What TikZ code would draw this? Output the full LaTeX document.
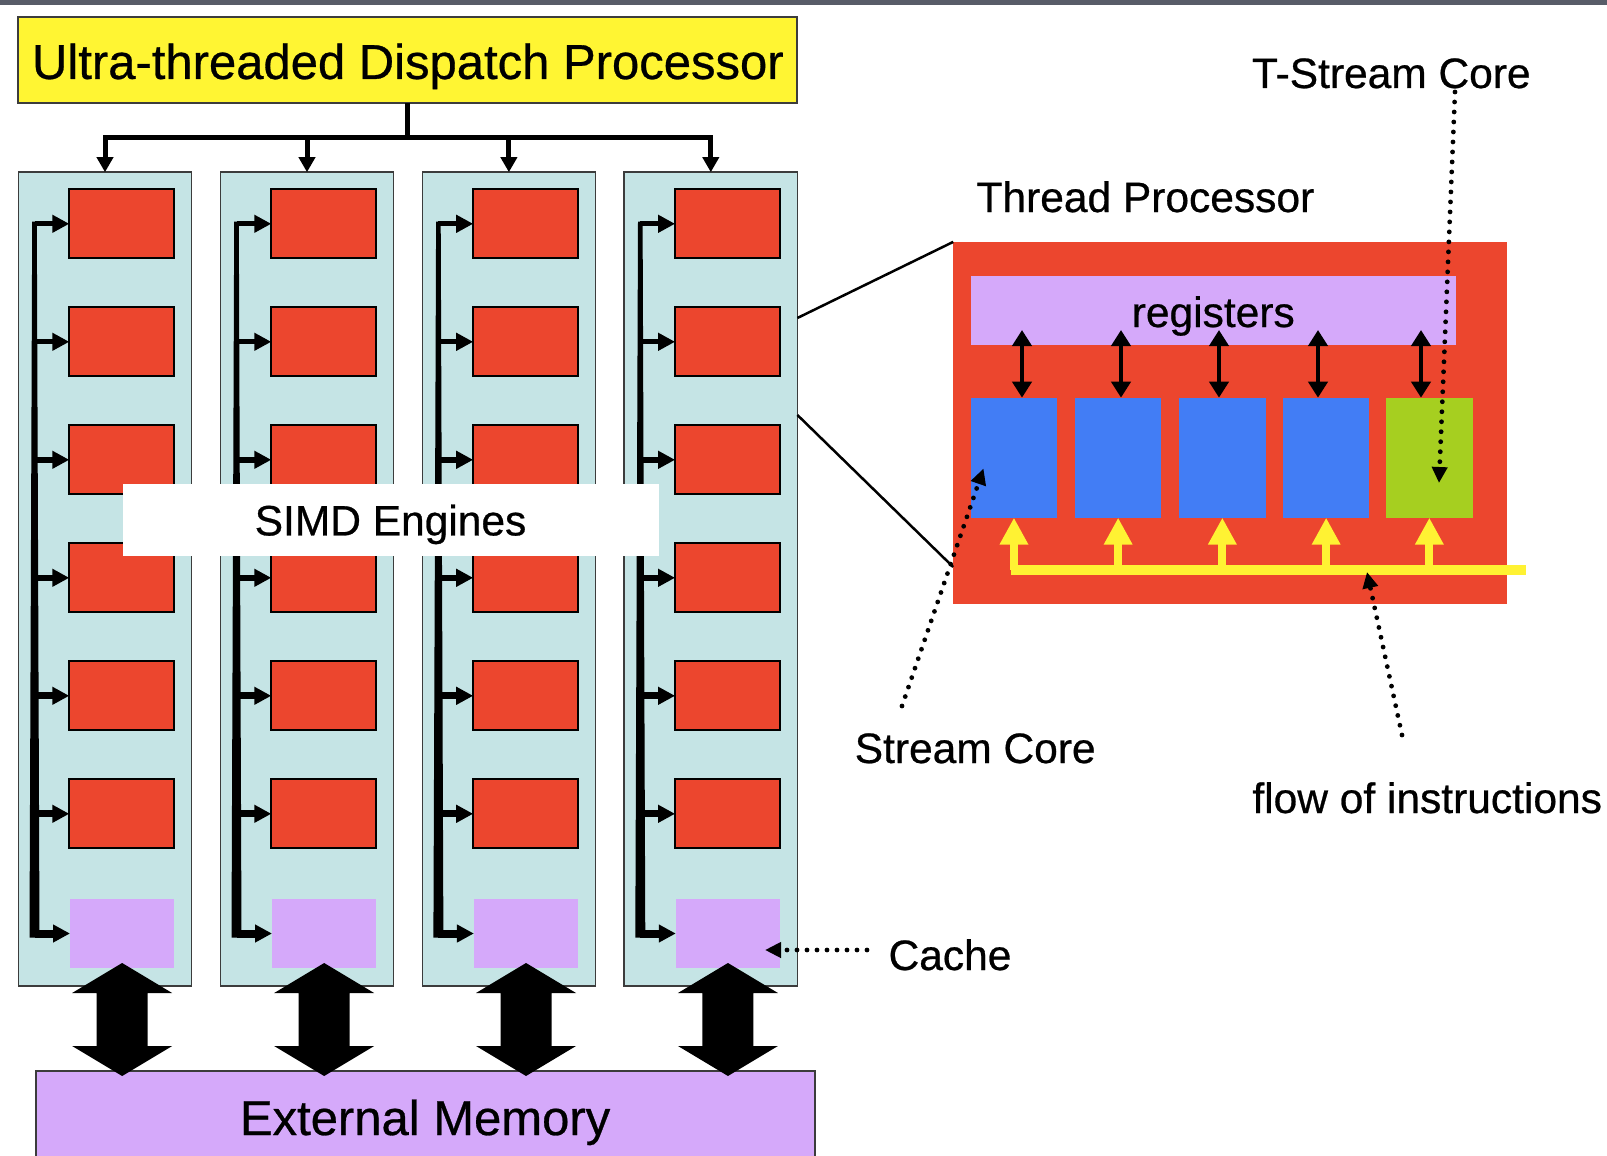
\documentclass[tikz,border=0pt]{standalone}
\usepackage{fontspec}
\setmainfont{Liberation Sans}[FakeBold=0.6]
\usetikzlibrary{arrows.meta}
\definecolor{dispyellow}{RGB}{255,245,51}
\definecolor{colblue}{RGB}{197,228,229}
\definecolor{corered}{RGB}{236,70,46}
\definecolor{cachepurple}{RGB}{213,169,250}
\definecolor{scblue}{RGB}{66,125,245}
\definecolor{tgreen}{RGB}{166,207,32}
\definecolor{flowyellow}{RGB}{255,242,51}
\definecolor{topband}{RGB}{88,92,104}
\definecolor{edgegray}{RGB}{60,60,60}
\newcommand\bigfnt{\fontsize{49pt}{55pt}\selectfont}
\newcommand\smallfnt{\fontsize{42.5pt}{48pt}\selectfont}
\begin{document}
\begin{tikzpicture}[x=1pt,y=-1pt,
  box/.style={rectangle, inner sep=0pt, outer sep=0pt, anchor=north west},
  dispbox/.style={box, draw=edgegray, line width=2pt, fill=dispyellow, minimum width=779pt, minimum height=85.1pt, font=\bigfnt, text height=38pt, text depth=0pt},
  colbox/.style={box, draw=edgegray, line width=1.5pt, fill=colblue, minimum width=173.2pt, minimum height=813.8pt},
  corebox/.style={box, draw=black, line width=2pt, fill=corered, minimum width=104.7pt, minimum height=69pt},
  cachebox/.style={box, fill=cachepurple, minimum width=104.3pt, minimum height=69.6pt},
  simdbox/.style={box, fill=white, minimum width=536.1pt, minimum height=72.8pt, font=\smallfnt, text height=31pt, text depth=0pt},
  membox/.style={box, draw=edgegray, line width=2pt, fill=cachepurple, minimum width=779.2pt, minimum height=100pt, font=\bigfnt, text height=28.6pt, text depth=0pt},
  trunk/.style={line width=5pt},
  branch/.style={-{Triangle[length=17pt,width=17pt]}},
  regarr/.style={line width=4.5pt, {Triangle[length=16pt,width=19pt]}-{Triangle[length=16pt,width=19pt]}},
  yarr/.style={draw=flowyellow, line width=8pt, -{Triangle[length=27pt,width=27pt]}},
  dotarr/.style={line width=4.8pt, line cap=round, dash pattern=on 0pt off 10pt, -{Triangle[length=16pt,width=15pt]}},
  zoomline/.style={line width=2.5pt},
  lbl/.style={font=\smallfnt, anchor=base, inner sep=0pt}
]
\useasboundingbox (0,0) rectangle (1607,1156);
\fill[white] (0,0) rectangle (1607,1156);
\fill[topband] (0,0) rectangle (1607,5);

% dispatch processor
\node[dispbox] (disp) at (18.4,17.4) {Ultra-threaded Dispatch Processor};

% SIMD columns
\foreach \c [count=\i] in {18.4,220.4,422.3,624.2} {
  \node[colbox] (col\i) at (\c,172.2) {};
  \foreach \j in {1,...,6} {
    \node[corebox] (core\i-\j) at (\c+50.9,{189.3+118*(\j-1)}) {};
  }
  \node[cachebox] (cache\i) at (\c+51.6,898.7) {};
  \coordinate (bt\i) at (\c+16.1,223.8);
  \coordinate (bb\i) at (\c+16.1,933.5);
  \fill ([xshift=-2.3pt,yshift=2.3pt]bt\i) -- ([xshift=2.3pt,yshift=2.3pt]bt\i) -- ([xshift=5pt,yshift=-4pt]bb\i) -- ([xshift=-5pt,yshift=-4pt]bb\i) -- cycle;
  \foreach \j in {1,...,6} {
    \pgfmathsetmacro\lw{4.3+0.5*\j}
    \draw[branch, line width=\lw pt] (core\i-\j.west -| bt\i) -- (core\i-\j.west);
  }
  \draw[branch, line width=8pt] (cache\i.west -| bt\i) -- (cache\i.west);
}

% dispatch tree
\draw[trunk] (disp.south) -- ++(0,35) coordinate (tj);
\draw[trunk, {Triangle[length=15pt,width=16pt]}-{Triangle[length=15pt,width=16pt]}] (col1.north) -- (col1.north |- tj) -- (col4.north |- tj) -- (col4.north);
\draw[trunk, -{Triangle[length=15pt,width=16pt]}] (col2.north |- tj) -- (col2.north);
\draw[trunk, -{Triangle[length=15pt,width=16pt]}] (col3.north |- tj) -- (col3.north);

% SIMD label
\node[simdbox] (simd) at (122.5,483.5) {SIMD Engines};

% external memory
\node[membox] (mem) at (35.5,1070.7) {External Memory};
\foreach \i in {1,...,4} {
  \path (cache\i.south) ++(0,-5.3) coordinate (dt\i);
  \path (mem.north -| cache\i.south) ++(0,5.3) coordinate (db\i);
  \fill (dt\i) -- ++(50,30) -- ++(-24.5,0) -- ++(0,53) -- ++(24.5,0) -- (db\i) -- ++(-50,-30) -- ++(24.5,0) -- ++(0,-53) -- ++(-24.5,0) -- cycle;
}

% thread processor
\node[box, fill=corered, minimum width=553.4pt, minimum height=361.8pt] (tp) at (953.2,241.9) {};
\draw[zoomline] (col4.east |- 0,318) -- (tp.north west);
\draw[zoomline] (col4.east |- 0,415) -- (tp.west |- 0,567);
\node[box, fill=cachepurple, minimum width=484.9pt, minimum height=69pt, font=\smallfnt, text height=33pt, text depth=0pt] (reg) at (970.8,276) {registers};
\foreach \xx/\k in {970.8/1,1075/2,1179.2/3,1283/4}
  \node[box, fill=scblue, minimum width=86.3pt, minimum height=120pt] (sc\k) at (\xx,397.7) {};
\node[box, fill=tgreen, minimum width=86.3pt, minimum height=120pt] (sc5) at (1386.2,397.7) {};
\foreach \xx/\k in {1022/1,1121/2,1219/3,1318/4,1421/5} {
  \coordinate (rt\k) at (\xx,330);
  \draw[regarr] (rt\k) -- (rt\k |- sc\k.north);
}
\coordinate (yls) at (1010.5,570);
\coordinate (yle) at (1526,570);
\draw[flowyellow, line width=10pt] (yls) -- (yle);
\foreach \k in {1,...,5}
  \draw[yarr] (sc\k.south |- yle) -- (sc\k.south);

% labels
\node[lbl] (tsclbl) at (1391.3,88) {T-Stream Core};
\node[lbl] (tplbl) at (1145.4,212) {Thread Processor};
\node[lbl] (sclbl) at (975.2,763) {Stream Core};
\node[lbl] (flowlbl) at (1427.2,813) {flow of instructions};
\node[lbl] (cachelbl) at (950,970) {Cache};

% dotted pointers
\coordinate (tsa) at (1455,92);   \coordinate (tsb) at (1439,483);
\coordinate (sca) at (902,706);   \coordinate (scb) at (983.5,468.5);
\coordinate (fla) at (1402,735);  \coordinate (flb) at (1367,572);
\coordinate (caa) at (867,950);   \coordinate (cab) at (765,950);
\draw[dotarr] (tsa) -- (tsb);
\draw[dotarr] (sca) -- (scb);
\draw[dotarr] (fla) -- (flb);
\draw[dotarr] (caa) -- (cab);
\end{tikzpicture}
\end{document}
